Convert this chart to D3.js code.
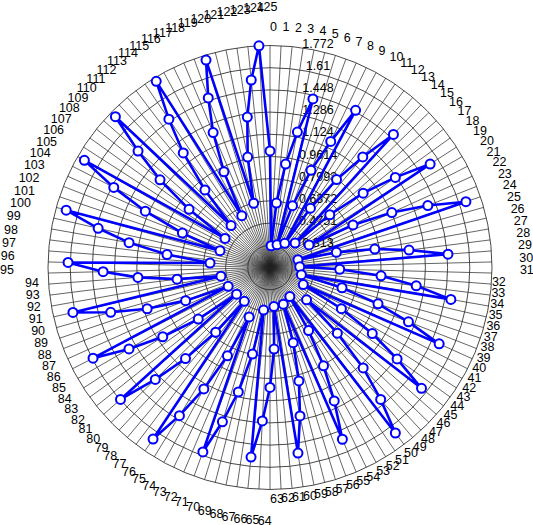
<!DOCTYPE html>
<html>
<head>
<meta charset="utf-8">
<script src="https://cdn.jsdelivr.net/npm/d3@7"></script>
<style>
  body { margin: 0; background: #fff; }
  text { font-family: Arial, "Liberation Sans", sans-serif; font-size: 12.5px; fill: #000; }
</style>
</head>
<body>
<script>
// radius of each of the 126 points, index 0..125
const values = [
  1.002,
  0.310, 0.624, 0.915, 1.160, 1.421,
  0.325, 0.631, 0.921, 1.173, 1.458,
  0.358, 0.675, 0.956, 1.205, 1.476,
  0.407, 0.733, 1.021, 1.278, 1.543,
  0.480, 0.832, 1.127, 1.389, 1.660,
  0.363, 0.648, 0.928, 1.174, 1.454,
  0.368, 0.660, 0.964, 1.227, 1.492,
  0.386, 0.697, 0.983, 1.237, 1.506,
  0.424, 0.753, 1.040, 1.294, 1.566,
  0.507, 0.838, 1.151, 1.408, 1.667,
  0.408, 0.691, 0.968, 1.232, 1.512,
  0.436, 0.725, 1.006, 1.257, 1.521,
  0.438, 0.747, 1.027, 1.273, 1.542,
  0.465, 0.796, 1.089, 1.330, 1.584,
  0.543, 0.867, 1.161, 1.419, 1.667,
  0.461, 0.768, 1.058, 1.321, 1.607,
  0.463, 0.796, 1.083, 1.340, 1.603,
  0.486, 0.813, 1.097, 1.359, 1.627,
  0.515, 0.835, 1.118, 1.370, 1.626,
  0.590, 0.909, 1.196, 1.438, 1.697,
  0.536, 0.838, 1.150, 1.433, 1.716,
  0.542, 0.879, 1.178, 1.436, 1.728,
  0.569, 0.890, 1.200, 1.462, 1.744,
  0.582, 0.926, 1.220, 1.469, 1.736,
  0.635, 0.974, 1.262, 1.527, 1.772
];
const categories = d3.range(126);   // angular labels 0..125

const rTicks = [0.313, 0.4751, 0.6372, 0.7993, 0.9614, 1.1235, 1.2856, 1.4477, 1.6098, 1.772];
const rTickLabels = ["0.313", "0.4751", "0.6372", "0.7993", "0.9614", "1.124", "1.286", "1.448", "1.61", "1.772"];
const rMin = 0.1509;

const w = 533, h = 525;
const cx = 270, cy = 267.5, R = 222;

const svg = d3.select("body").append("svg")
    .attr("width", w)
    .attr("height", h);

const g = svg.append("g").attr("transform", `translate(${cx},${cy})`);

const r = d3.scaleLinear().domain([rMin, rTicks[rTicks.length - 1]]).range([0, R]);
const angle = d3.scaleLinear().domain([0, categories.length]).range([0, 2 * Math.PI]);

// spokes
g.selectAll("line.spoke")
  .data(categories)
  .enter()
  .append("line")
  .attr("class", "spoke")
  .attr("x1", 0).attr("y1", 0)
  .attr("x2", d => R * Math.sin(angle(d)))
  .attr("y2", d => -R * Math.cos(angle(d)))
  .attr("stroke", "#222")
  .attr("stroke-width", 0.7);

// rings
g.selectAll("circle.ring")
  .data(rTicks)
  .enter()
  .append("circle")
  .attr("class", "ring")
  .attr("r", d => r(d))
  .attr("fill", "none")
  .attr("stroke", "#333")
  .attr("stroke-width", 0.9);

// radial tick labels
g.selectAll("text.rtick")
  .data(rTicks)
  .enter()
  .append("text")
  .attr("class", "rtick")
  .attr("x", 48)
  .attr("y", d => -r(d) + 2)
  .attr("text-anchor", "middle")
  .text((d, i) => rTickLabels[i]);

// angular labels, distance depends on the quadrant
const labelRadius = function(a){
    const deg = a * 180 / Math.PI;
    if (deg < 90) return 250;
    if (deg <= 180) return 222;
    if (deg < 270) return 245;
    return 270;
}

g.selectAll("text.alabel")
  .data(categories)
  .enter()
  .append("text")
  .attr("class", "alabel")
  .attr("x", d => labelRadius(angle(d)) * Math.sin(angle(d)))
  .attr("y", d => -labelRadius(angle(d)) * Math.cos(angle(d)) + 13)
  .text(d => d);

// data line
const line = d3.lineRadial()
    .angle((d, i) => angle(i))
    .radius(d => r(d))
    .curve(d3.curveLinearClosed);

g.append("path")
  .datum(values)
  .attr("d", line)
  .attr("fill", "none")
  .attr("stroke", "#0000ff")
  .attr("stroke-width", 2.6);

g.selectAll("circle.dot")
  .data(values)
  .enter()
  .append("circle")
  .attr("class", "dot")
  .attr("cx", (d, i) => r(d) * Math.sin(angle(i)))
  .attr("cy", (d, i) => -r(d) * Math.cos(angle(i)))
  .attr("r", 4.5)
  .attr("fill", "#fff")
  .attr("stroke", "#0000ff")
  .attr("stroke-width", 2);
</script>
</body>
</html>
